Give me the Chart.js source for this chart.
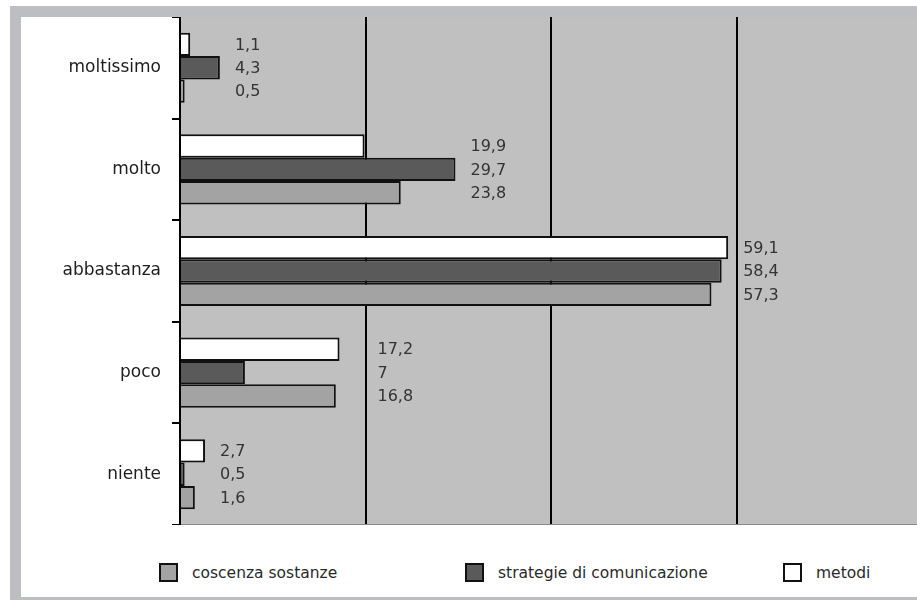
<!DOCTYPE html>
<html lang="it">
<head>
<meta charset="UTF-8">
<title>Grafico</title>
<script src="https://cdn.jsdelivr.net/npm/chart.js@4.4.0/dist/chart.umd.min.js"></script>
<style>
  html, body { margin: 0; padding: 0; background: #fff; overflow: hidden; width: 917px; height: 600px; }
  #frame { position: absolute; left: 10px; top: 6px; width: 1000px; height: 580px; border: 11px solid #bdbec2; background: #fff; }
  #wrap { position: absolute; left: 21px; top: 17px; width: 901px; height: 508px; }
  #legend { position: absolute; top: 563px; left: 0; width: 917px; height: 20px; font-family: "DejaVu Sans", sans-serif; font-size: 15.5px; color: #2a2a2a; }
  .item { position: absolute; top: 0; display: flex; align-items: center; }
  .box { width: 15px; height: 15px; border: 2px solid #111; margin-right: 14px; }
</style>
</head>
<body>
<div id="frame"></div>
<div id="wrap"><canvas id="chart"></canvas></div>
<div id="legend"></div>

<script>
// data
const categories = ['moltissimo', 'molto', 'abbastanza', 'poco', 'niente'];
const metodi = [1.1, 19.9, 59.1, 17.2, 2.7];
const strategie = [4.3, 29.7, 58.4, 7, 0.5];
const coscenza = [0.5, 23.8, 57.3, 16.8, 1.6];
const xTicks = [0, 20, 40, 60, 80];

const font = '"DejaVu Sans", sans-serif';

// grey plot background
const plotBg = {
  id: 'plotBg',
  beforeDraw(chart) {
    const { ctx, chartArea: a } = chart;
    ctx.save();
    ctx.fillStyle = '#c0c0c0';
    ctx.fillRect(a.left, a.top, a.right - a.left, a.bottom - a.top);
    ctx.restore();
  }
};

// value labels to the right of each group
const valueLabels = {
  id: 'valueLabels',
  afterDatasetsDraw(chart) {
    const { ctx } = chart;
    const xs = chart.scales.x;
    const grids = xTicks.map(v => xs.getPixelForValue(v));
    ctx.save();
    ctx.font = '16px ' + font;
    ctx.fillStyle = '#333';
    ctx.textAlign = 'left';
    ctx.textBaseline = 'middle';
    categories.forEach((c, i) => {
      let end = 0;
      chart.data.datasets.forEach((ds, d) => {
        end = Math.max(end, chart.getDatasetMeta(d).data[i].x);
      });
      let x = end + 15;
      const w = Math.max(...chart.data.datasets.map(ds => ctx.measureText(String(ds.data[i]).replace('.', ',')).width));
      grids.forEach(g => { if (x < g + 2 && x + w > g - 2) x = g + 12; });
      chart.data.datasets.forEach((ds, d) => {
        const bar = chart.getDatasetMeta(d).data[i];
        ctx.fillText(String(ds.data[i]).replace('.', ','), x, bar.y + 1);
      });
    });
    ctx.restore();
  }
};

const datasets = [
  { label: 'metodi', data: metodi, backgroundColor: '#ffffff' },
  { label: 'strategie di comunicazione', data: strategie, backgroundColor: '#5a5a5a' },
  { label: 'coscenza sostanze', data: coscenza, backgroundColor: '#a3a3a3' }
].map(d => Object.assign(d, {
  borderColor: '#111', borderWidth: 2, borderSkipped: 'start',
  categoryPercentage: 0.69, barPercentage: 1
}));

new Chart(document.getElementById('chart'), {
  type: 'bar',
  data: { labels: categories, datasets },
  options: {
    indexAxis: 'y',
    responsive: true,
    maintainAspectRatio: false,
    animation: false,
    layout: { padding: 0 },
    plugins: { legend: { display: false }, tooltip: { enabled: false } },
    scales: {
      x: {
        min: 0, max: 80,
        ticks: { display: false, stepSize: 20 },
        grid: { color: '#000', lineWidth: 2, drawTicks: false },
        border: { display: true, color: '#8a8a8a', width: 2 }
      },
      y: {
        afterFit(s) { s.width = 159; s.paddingTop = 0; s.paddingBottom = 0; },
        ticks: { color: '#1e1e1e', font: { family: font, size: 17 }, padding: 11 },
        grid: { drawOnChartArea: false, drawTicks: true, tickLength: 8, color: '#000', lineWidth: 2, offset: true },
        border: { display: true, color: '#000', width: 2 }
      }
    }
  },
  plugins: [plotBg, valueLabels]
});

// legend (reverse of bar order)
const legendPos = [159, 465, 783];
const legend = document.getElementById('legend');
datasets.slice().reverse().forEach((d, k) => {
  const it = document.createElement('div');
  it.className = 'item';
  it.style.left = legendPos[k] + 'px';
  it.innerHTML = '<span class="box" style="background:' + d.backgroundColor + '"></span><span>' + d.label + '</span>';
  legend.appendChild(it);
});
</script>
</body>
</html>
